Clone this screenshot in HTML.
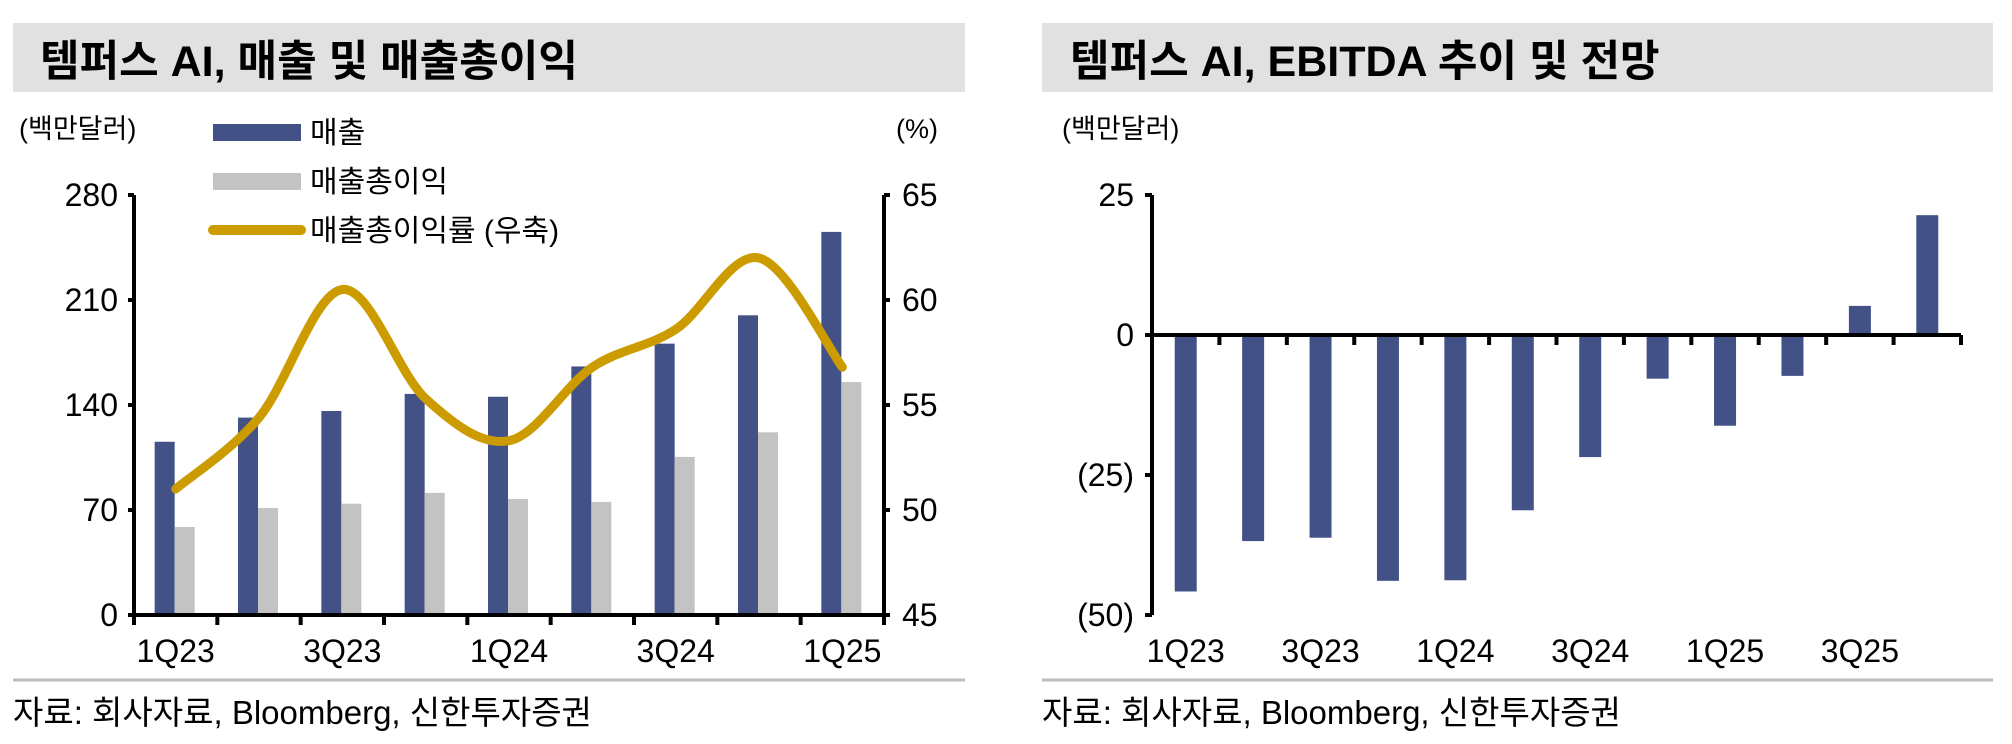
<!DOCTYPE html>
<html><head><meta charset="utf-8"><style>
html,body{margin:0;padding:0;background:#fff;}
svg{display:block;}
text{font-family:"Liberation Sans Narrow","Liberation Sans","Noto Sans CJK KR",sans-serif;fill:#000;}
.kr{font-family:"Liberation Sans Narrow","Liberation Sans","Noto Sans CJK KR",sans-serif;}
</style></head><body>
<svg id="chart" width="2012" height="744" viewBox="0 0 2012 744" xmlns="http://www.w3.org/2000/svg">
<rect x="13" y="23" width="952" height="69" fill="#e1e1e1"/>
<text x="40" y="76" font-size="43" font-weight="bold" class="kr">템퍼스 AI, 매출 및 매출총이익</text>
<rect x="1042" y="23" width="951" height="69" fill="#e1e1e1"/>
<text x="1070" y="76" font-size="43" font-weight="bold" class="kr">템퍼스 AI, EBITDA 추이 및 전망</text>
<text x="19" y="138" font-size="27" class="kr">(백만달러)</text>
<text x="896" y="138" font-size="27">(%)</text>
<text x="1062" y="138" font-size="27" class="kr">(백만달러)</text>
<g>
<rect x="213" y="124" width="88" height="17" fill="#435286"/>
<text x="310" y="143" font-size="30" class="kr">매출</text>
<rect x="213" y="173" width="88" height="17" fill="#c3c3c3"/>
<text x="310" y="192" font-size="30" class="kr">매출총이익</text>
<line x1="213" y1="230" x2="301" y2="230" stroke="#cc9b00" stroke-width="10" stroke-linecap="round"/>
<text x="310" y="241" font-size="30" class="kr">매출총이익률 (우축)</text>
</g>
<line x1="13" y1="680" x2="965" y2="680" stroke="#bdbdbd" stroke-width="3"/>
<line x1="1042" y1="680" x2="1993" y2="680" stroke="#bdbdbd" stroke-width="3"/>
<text x="13" y="724" font-size="33" class="kr">자료: 회사자료, Bloomberg, 신한투자증권</text>
<text x="1042" y="724" font-size="33" class="kr">자료: 회사자료, Bloomberg, 신한투자증권</text>
<g id="left"></g>
<g id="right"></g>
</svg>
<script>
const categoriesL = ["1Q23","2Q23","3Q23","4Q23","1Q24","2Q24","3Q24","4Q24","1Q25"];
const xLabelsL = ["1Q23","","3Q23","","1Q24","","3Q24","","1Q25"];
const revenue = [115.5,131.6,136,147.4,145.5,165.7,180.9,199.8,255.4];
const grossProfit = [58.7,71.3,74.2,81.4,77.3,75.4,105.4,121.8,155.3];
const margin = [51.0,54.4,60.5,55.3,53.3,56.8,58.6,62.0,56.8];
const leftTicks = [0,70,140,210,280];
const rightTicks = [45,50,55,60,65];

const categoriesR = ["1Q23","2Q23","3Q23","4Q23","1Q24","2Q24","3Q24","4Q24","1Q25","2Q25","3Q25","4Q25"];
const xLabelsR = ["1Q23","","3Q23","","1Q24","","3Q24","","1Q25","","3Q25",""];
const ebitda = [-45.8,-36.8,-36.2,-43.9,-43.8,-31.3,-21.8,-7.8,-16.2,-7.3,5.2,21.4];
const ebitdaTicks = [25,0,-25,-50];

const NS="http://www.w3.org/2000/svg";
function mk(parent,tag,attrs){const e=document.createElementNS(NS,tag);for(const k in attrs)e.setAttribute(k,attrs[k]);parent.appendChild(e);return e;}

// LEFT CHART
const L=document.getElementById('left');
const lx0=134,lx1=884,ly0=615,ly1=195;
const yL=v=>ly0-(v-0)/(280-0)*(ly0-ly1);
const yR=v=>ly0-(v-45)/(65-45)*(ly0-ly1);
const bw=(lx1-lx0)/categoriesL.length;
const xC=i=>lx0+bw*(i+0.5);
revenue.forEach((v,i)=>{
  const r=mk(L,'rect',{x:xC(i)-21,y:yL(v),width:20,height:yL(0)-yL(v),fill:'#435286'});
  
  
});
grossProfit.forEach((v,i)=>{
  const r=mk(L,'rect',{x:xC(i)-1,y:yL(v),width:20,height:yL(0)-yL(v),fill:'#c3c3c3'});
  
  
});
const pts=margin.map((v,i)=>[xC(i),yR(v)]);
let d='M'+pts[0][0]+','+pts[0][1];
for(let i=0;i<pts.length-1;i++){
  const p0=pts[i-1]||pts[i],p1=pts[i],p2=pts[i+1],p3=pts[i+2]||p2;
  const c1=[p1[0]+(p2[0]-p0[0])/6,p1[1]+(p2[1]-p0[1])/6];
  const c2=[p2[0]-(p3[0]-p1[0])/6,p2[1]-(p3[1]-p1[1])/6];
  d+=' C'+c1[0]+','+c1[1]+' '+c2[0]+','+c2[1]+' '+p2[0]+','+p2[1];
}
const ml=mk(L,'path',{d:d,fill:'none',stroke:'#cc9b00','stroke-width':9,'stroke-linecap':'round','stroke-linejoin':'round'});


const la=mk(L,'line',{x1:lx0,y1:ly1,x2:lx0,y2:ly0+2,stroke:'#000','stroke-width':4});


const ra=mk(L,'line',{x1:lx1,y1:ly1,x2:lx1,y2:ly0+2,stroke:'#000','stroke-width':4});


const xa=mk(L,'line',{x1:lx0,y1:ly0,x2:lx1,y2:ly0,stroke:'#000','stroke-width':4});


leftTicks.forEach(v=>{
  mk(L,'line',{x1:lx0-6,y1:yL(v),x2:lx0,y2:yL(v),stroke:'#000','stroke-width':4});
  const t=mk(L,'text',{x:lx0-16,y:yL(v)+11,'font-size':32,'text-anchor':'end'});
  t.textContent=v;
  
  
});
rightTicks.forEach(v=>{
  mk(L,'line',{x1:lx1,y1:yR(v),x2:lx1+6,y2:yR(v),stroke:'#000','stroke-width':4});
  const t=mk(L,'text',{x:lx1+18,y:yR(v)+11,'font-size':32});
  t.textContent=v;
  
  
});
for(let i=0;i<=categoriesL.length;i++){
  mk(L,'line',{x1:lx0+bw*i,y1:ly0,x2:lx0+bw*i,y2:ly0+10,stroke:'#000','stroke-width':4});
}
xLabelsL.forEach((s,i)=>{
  if(!s)return;
  const t=mk(L,'text',{x:xC(i),y:662,'font-size':32,'text-anchor':'middle'});
  t.textContent=s;
  
  
});

// RIGHT CHART
const R=document.getElementById('right');
const rx0=1152,rx1=1961,ry25=195,ryM50=615;
const yE=v=>ry25+(25-v)/75*(ryM50-ry25);
const bw2=(rx1-rx0)/categoriesR.length;
const xC2=i=>rx0+bw2*(i+0.5);
ebitda.forEach((v,i)=>{
  const top=Math.min(yE(v),yE(0)),h=Math.abs(yE(v)-yE(0));
  const r=mk(R,'rect',{x:xC2(i)-11,y:top,width:22,height:h,fill:'#435286'});
  
  
});
const ya2=mk(R,'line',{x1:rx0,y1:ry25,x2:rx0,y2:ryM50,stroke:'#000','stroke-width':4});


const xa2=mk(R,'line',{x1:rx0,y1:yE(0),x2:rx1,y2:yE(0),stroke:'#000','stroke-width':4});


ebitdaTicks.forEach(v=>{
  mk(R,'line',{x1:rx0-7,y1:yE(v),x2:rx0,y2:yE(v),stroke:'#000','stroke-width':4});
  const t=mk(R,'text',{x:rx0-18,y:yE(v)+11,'font-size':32,'text-anchor':'end'});
  t.textContent=v<0?'('+(-v)+')':v;
  
  
});
for(let i=1;i<=categoriesR.length;i++){
  mk(R,'line',{x1:rx0+bw2*i,y1:yE(0),x2:rx0+bw2*i,y2:yE(0)+10,stroke:'#000','stroke-width':4});
}
xLabelsR.forEach((s,i)=>{
  if(!s)return;
  const t=mk(R,'text',{x:xC2(i),y:662,'font-size':32,'text-anchor':'middle'});
  t.textContent=s;
  
  
});
</script>
</body></html>
